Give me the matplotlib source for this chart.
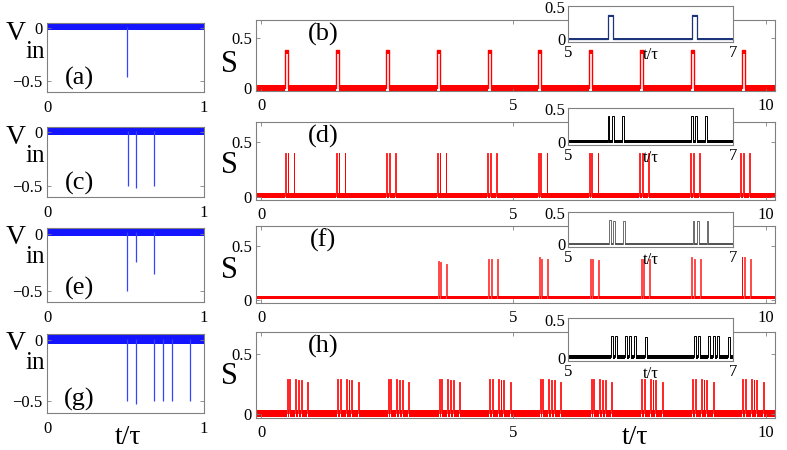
import numpy as np
import matplotlib.pyplot as plt

plt.rcParams['font.family'] = ['Liberation Serif', 'DejaVu Serif']
plt.rcParams['axes.unicode_minus'] = True

W, H = 787, 450

# ---- input spikes V_in (left column), t/tau and depth
vin_a_t = [0.51]
vin_a_v = [-0.46]
vin_c_t = [0.514, 0.567, 0.68]
vin_c_v = [-0.5, -0.52, -0.5]
vin_e_t = [0.512, 0.567, 0.68]
vin_e_v = [-0.5, -0.25, -0.35]
vin_g_t = [0.511, 0.568, 0.681, 0.74, 0.795, 0.909]
vin_g_v = [-0.5, -0.53, -0.5, -0.5, -0.5, -0.5]

# ---- output S (right column): group start times, offsets in group, heights
s_b_starts = [0.48, 1.48, 2.48, 3.48, 4.49, 5.49, 6.50, 7.50, 8.51, 9.52]
s_b_offsets = [0.0]
s_b_heights = [[0.38]] * 10

s_d_starts = [0.47, 1.48, 2.48, 3.48, 4.48, 5.48, 6.49, 7.49, 8.50, 9.49]
s_d_offsets = [0.0, 0.055, 0.175]
s_d_heights = [[0.40, 0.40, 0.40]] * 10

s_f_starts = [3.50, 4.50, 5.50, 6.51, 7.52, 8.52, 9.52]
s_f_offsets = [0.0, 0.05, 0.17]
s_f_heights = [[0.36, 0.35, 0.33],
               [0.38, 0.38, 0.38],
               [0.39, 0.38, 0.38],
               [0.38, 0.38, 0.37],
               [0.38, 0.38, 0.38],
               [0.39, 0.38, 0.38],
               [0.39, 0.39, 0.38]]

s_h_starts = [0.51, 1.51, 2.51, 3.52, 4.52, 5.52, 6.53, 7.53, 8.54, 9.53]
s_h_offsets = [0.0, 0.05, 0.17, 0.225, 0.28, 0.41]
s_h_heights = [[0.29, 0.29, 0.29, 0.28, 0.28, 0.27]] * 10


def box(x0, y0, x1, y1):
    return [x0 / W, 1 - y1 / H, (x1 - x0) / W, (y1 - y0) / H]


def pulses(starts, offsets, heights):
    out = []
    for s, hs in zip(starts, heights):
        for o, h in zip(offsets, hs):
            out.append((s + o, h))
    return out


def s_trace(ax, pl, width, color, band, lw, xlim, cap=False):
    base = 0.5 * (band[0] + band[1])
    xs, ys = [xlim[0]], [base]
    for t0, h in pl:
        xs += [t0, t0, t0 + width, t0 + width]
        ys += [base, h, h, base]
    xs.append(xlim[1])
    ys.append(base)
    ax.plot(xs, ys, color=color, lw=lw)
    edges = [xlim[0]] + [v for t0, _ in pl for v in (t0, t0 + width)] + [xlim[1]]
    for a, b in zip(edges[0::2], edges[1::2]):
        ax.fill_between([a, b], band[0], band[1], color=color, lw=0)
    if cap:
        for t0, h in pl:
            ax.fill_between([t0, t0 + width], h - 0.035, h + 0.005, color=color, lw=0)


def style(ax, fs=12):
    for sp in ax.spines.values():
        sp.set_color('#808080')
        sp.set_linewidth(0.8)
    ax.tick_params(direction='in', top=True, right=True, length=3, width=0.6,
                   color='#808080', labelcolor='k', labelsize=fs, pad=3)


fig = plt.figure(figsize=(W / 100, H / 100), dpi=100)

# ---- left column
left_boxes = [(47, 23, 204, 92), (47, 127, 204, 197), (47, 228, 204, 302), (47, 334, 204, 413)]
vin_t = [vin_a_t, vin_c_t, vin_e_t, vin_g_t]
vin_v = [vin_a_v, vin_c_v, vin_e_v, vin_g_v]
vin_band = [(-0.015, 0.045), (-0.02, 0.045), (-0.02, 0.045), (-0.035, 0.05)]
left_tags = ['(a)', '(c)', '(e)', '(g)']
for i, bx in enumerate(left_boxes):
    ax = fig.add_axes(box(*bx))
    lo, hi = vin_band[i]
    ax.fill_between([0, 1], lo, hi, color='#1414ff', lw=0)
    ax.vlines(vin_t[i], 0.5 * (lo + hi), vin_v[i], color='#3344ff', lw=0.9)
    ax.set_xlim(0, 1)
    ax.set_ylim(-0.6, 0.05)
    ax.set_xticks([0, 1])
    ax.set_yticks([-0.5, 0])
    ax.set_yticklabels(['\u22120.5', '0'])
    style(ax)
    ax.tick_params(axis='x', pad=6)
    x0, y0, x1, y1 = bx
    fig.text(79 / W, 1 - (y1 - 14) / H, left_tags[i], fontsize=19, ha='center', va='center')
    fig.text(16 / W, 1 - (y0 + 10) / H, 'V', fontsize=20, ha='center', va='center')
    fig.text(35 / W, 1 - (y0 + 29) / H, 'in', fontsize=18, ha='center', va='center')

# ---- right column
right_boxes = [(256, 20, 775, 91), (256, 122, 775, 200), (256, 226, 775, 303), (256, 332, 775, 418)]
inset_boxes = [(568, 6, 733, 42), (568, 108, 733, 145), (568, 212, 733, 247), (568, 318, 733, 361)]
s_all = [pulses(s_b_starts, s_b_offsets, s_b_heights),
         pulses(s_d_starts, s_d_offsets, s_d_heights),
         pulses(s_f_starts, s_f_offsets, s_f_heights),
         pulses(s_h_starts, s_h_offsets, s_h_heights)]
s_width = [0.06, 0.016, 0.016, 0.016]
s_band = [(-0.027, 0.03), (-0.015, 0.035), (0.005, 0.03), (-0.02, 0.04)]
s_lw = [1.0, 0.6, 0.5, 0.6]
inset_w = [0.06, 0.022, 0.022, 0.022]
inset_lw = [0.9, 0.7, 0.6, 0.7]
inset_col = ['#1c3479', '#000000', '#555555', '#000000']
inset_band = [(-0.015, 0.03), (-0.01, 0.03), (0.0, 0.02), (-0.01, 0.035)]
right_tags = ['(b)', '(d)', '(f)', '(h)']
xl = (-0.1, 10.18)

for i, bx in enumerate(right_boxes):
    ax = fig.add_axes(box(*bx))
    s_trace(ax, s_all[i], s_width[i], '#ff0000', s_band[i], s_lw[i], xl, cap=(i == 0))
    ax.set_xlim(*xl)
    ax.set_ylim(-0.03, 0.68)
    ax.set_xticks([0, 5, 10])
    ax.set_yticks([0, 0.5])
    ax.set_yticklabels(['0', '0.5'])
    style(ax)
    ax.tick_params(axis='x', pad=5)
    x0, y0, x1, y1 = bx
    fig.text(323 / W, 1 - (y0 + 14) / H, right_tags[i], fontsize=19, ha='center', va='center')
    fig.text(229 / W, 1 - (y0 + 44) / H, 'S', fontsize=22, ha='center', va='center')

for i, bx in enumerate(inset_boxes):
    ax = fig.add_axes(box(*bx))
    ax.set_facecolor('white')
    s_trace(ax, s_all[i], inset_w[i], inset_col[i], inset_band[i], inset_lw[i], (5, 7), cap=(i == 0))
    ax.set_xlim(5, 7)
    ax.set_ylim(-0.04, 0.52)
    ax.set_xticks([5, 7])
    ax.set_yticks([0, 0.5])
    ax.set_yticklabels(['0', '0.5'])
    style(ax)
    ax.tick_params(length=0, pad=2)
    ax.set_xlabel('t/\u03c4', fontsize=12, labelpad=-10)

fig.text(128 / W, 1 - 437 / H, 't/\u03c4', fontsize=20, ha='center', va='center')
fig.text(635 / W, 1 - 437 / H, 't/\u03c4', fontsize=20, ha='center', va='center')

fig.savefig('out.png', dpi=100)
